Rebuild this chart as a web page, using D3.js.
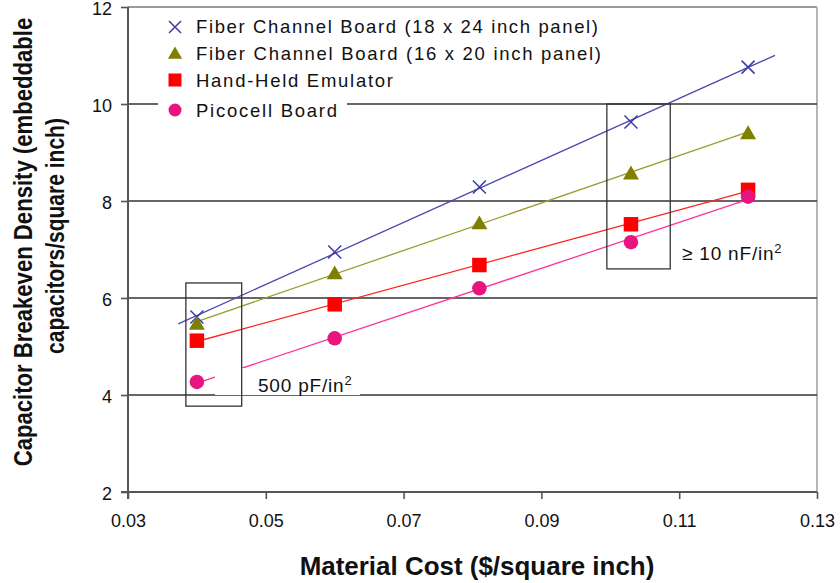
<!DOCTYPE html>
<html><head><meta charset="utf-8">
<script src="https://cdn.jsdelivr.net/npm/d3@7"></script>
<style>body{margin:0;background:#fff;} svg{display:block;font-family:"Liberation Sans",Arial,sans-serif;}</style>
</head><body>
<svg id="c" width="840" height="583"></svg>
<script>
// ---- data ----
const seriesNames = ["Fiber Channel Board (18 x 24 inch panel)", "Fiber Channel Board (16 x 20 inch panel)", "Hand-Held Emulator", "Picocell Board"];
const materialCost = [0.04, 0.06, 0.081, 0.103, 0.12];
const fiber18x24 = [5.61, 6.95, 8.29, 9.63, 10.76];
const fiber16x20 = [5.48, 6.52, 7.55, 8.58, 9.41];
const handHeld = [5.12, 5.87, 6.68, 7.52, 8.23];
const picocell = [4.27, 5.17, 6.20, 7.15, 8.09];
const xTicks = [0.03, 0.05, 0.07, 0.09, 0.11, 0.13];
const yTicks = [2, 4, 6, 8, 10, 12];
const trendRanges = [[0.0373, 0.1239], [0.04, 0.12], [0.04, 0.12], [0.04, 0.12]];
const boxLow = {x0: 0.0384, x1: 0.0465, y0: 3.77, y1: 6.31, label: "500 pF/in", sup: "2"};
const boxHigh = {x0: 0.0995, x1: 0.1087, y0: 6.6, y1: 10.0, label: "\u2265 10 nF/in", sup: "2"};

const allSeries = [fiber18x24, fiber16x20, handHeld, picocell];
const markerColors = ["#3c3ca8", "#7f7f00", "#ff0000", "#e8157f"];
const lineColors = ["#4a4ab0", "#9c9c30", "#ff2222", "#ff3399"];
const shapes = ["x", "triangle", "square", "circle"];

const svg = d3.select("#c");
const x = d3.scaleLinear().domain([0.03, 0.13]).range([128, 817]);
const y = d3.scaleLinear().domain([2, 12]).range([492, 7]);

// frame: top and right light
svg.append("line").attr("x1", x(0.03)).attr("x2", x(0.13)).attr("y1", y(12)).attr("y2", y(12)).attr("stroke", "#999").attr("stroke-width", 2);
svg.append("line").attr("x1", x(0.13)).attr("x2", x(0.13)).attr("y1", y(12)).attr("y2", y(2)).attr("stroke", "#b5b5b5").attr("stroke-width", 2);

// gridlines
svg.append("g").selectAll("line").data(yTicks.filter(d => d > 2 && d < 12)).join("line")
  .attr("x1", x(0.03)).attr("x2", x(0.13)).attr("y1", d => y(d)).attr("y2", d => y(d))
  .attr("stroke", "#333").attr("stroke-width", 1.3);

// axes
const yAxis = d3.axisLeft(y).tickValues(yTicks).tickFormat(d3.format("d")).tickSize(7).tickPadding(9);
const gy = svg.append("g").attr("transform", `translate(${x(0.03)},0)`).call(yAxis);
const xAxis = d3.axisBottom(x).tickValues(xTicks).tickFormat(d3.format(".2f")).tickSize(7).tickPadding(15);
const gx = svg.append("g").attr("transform", `translate(0,${y(2)})`).call(xAxis);
[gx, gy].forEach(g => {
  g.select(".domain").remove();
  g.selectAll(".tick line").attr("stroke", "#555").attr("stroke-width", 1.6);
  g.selectAll(".tick text").attr("fill", "#111").style("font-size", "18px").style("font-family", '"Liberation Sans",Arial,sans-serif');
});
gy.selectAll(".tick text").attr("dy", "0.42em");
svg.append("line").attr("x1", x(0.03)).attr("x2", x(0.03)).attr("y1", y(12)).attr("y2", y(2) + 7).attr("stroke", "#555").attr("stroke-width", 2);
svg.append("line").attr("x1", x(0.03) - 7).attr("x2", x(0.13)).attr("y1", y(2)).attr("y2", y(2)).attr("stroke", "#555").attr("stroke-width", 2);

// trend lines (least squares fit)
allSeries.forEach((vals, i) => {
  const mx = d3.mean(materialCost), my = d3.mean(vals);
  const sxy = d3.sum(materialCost.map((c, k) => (c - mx) * (vals[k] - my)));
  const sxx = d3.sum(materialCost.map(c => (c - mx) * (c - mx)));
  const b = sxy / sxx, a = my - b * mx;
  const [r0, r1] = trendRanges[i];
  svg.append("line").attr("x1", x(r0)).attr("y1", y(a + b * r0)).attr("x2", x(r1)).attr("y2", y(a + b * r1))
    .attr("stroke", lineColors[i]).attr("stroke-width", 1.3);
});

// white label background for low box
svg.append("rect").attr("x", 215).attr("y", 368).attr("width", 145).attr("height", 27).attr("fill", "#fff");

// annotation boxes
[boxLow, boxHigh].forEach(bx => {
  svg.append("rect").attr("x", x(bx.x0)).attr("y", y(bx.y1)).attr("width", x(bx.x1) - x(bx.x0)).attr("height", y(bx.y0) - y(bx.y1))
    .attr("fill", "none").attr("stroke", "#333").attr("stroke-width", 1.3);
});

// markers
function drawMarker(g, shape, cx, cy, s, color) {
  if (shape === "x") {
    g.append("path").attr("d", `M${cx - s / 2},${cy - s / 2}L${cx + s / 2},${cy + s / 2}M${cx - s / 2},${cy + s / 2}L${cx + s / 2},${cy - s / 2}`)
      .attr("stroke", color).attr("stroke-width", 1.5).attr("fill", "none");
  } else if (shape === "triangle") {
    g.append("path").attr("d", `M${cx},${cy - s * 0.5}L${cx + s * 0.55},${cy + s * 0.45}L${cx - s * 0.55},${cy + s * 0.45}Z`).attr("fill", color);
  } else if (shape === "square") {
    g.append("rect").attr("x", cx - s / 2).attr("y", cy - s / 2).attr("width", s).attr("height", s).attr("fill", color);
  } else {
    g.append("circle").attr("cx", cx).attr("cy", cy).attr("r", s / 2).attr("fill", color);
  }
}
const mg = svg.append("g");
allSeries.forEach((vals, i) => {
  vals.forEach((v, k) => drawMarker(mg, shapes[i], x(materialCost[k]), y(v), i === 0 ? 13 : 14.5, markerColors[i]));
});

// annotation labels
function supLabel(tx, ty, main, sup) {
  const t = svg.append("text").attr("x", tx).attr("y", ty).style("font-size", "19px").style("letter-spacing", "0.8px").attr("fill", "#111");
  t.append("tspan").text(main);
  t.append("tspan").attr("dy", -7).style("font-size", "13px").text(sup);
}
supLabel(258, 392, boxLow.label, boxLow.sup);
supLabel(682, 260, boxHigh.label, boxHigh.sup);

// legend
const legY = [27, 53, 80, 110];
const legBase = [33, 60, 87, 117];
const legLen = [402, 405, 197, 141];
seriesNames.forEach((name, i) => {
  svg.append("rect").attr("x", 158).attr("y", legY[i] - 13).attr("width", legLen[i] + 48).attr("height", 26).attr("fill", "#fff");
  drawMarker(svg, shapes[i], 175, legY[i], i === 0 ? 12 : 13, markerColors[i]);
  svg.append("text").attr("x", 196).attr("y", legBase[i]).attr("textLength", legLen[i]).attr("lengthAdjust", "spacing")
    .style("font-size", "18.5px").attr("fill", "#111").text(name);
});

// axis titles: drawn at full size, then squeezed along the text direction to the measured length
function squeezed(tx, ty, rot, len, size, str) {
  const g = svg.append("g");
  const t = g.append("text").attr("text-anchor", "middle").style("font-size", size + "px").style("font-weight", "bold").attr("fill", "#111").text(str);
  const w = t.node().getComputedTextLength();
  g.attr("transform", `translate(${tx},${ty}) rotate(${rot}) scale(${len / w},1)`);
}
squeezed(477, 575, 0, 355, 25, "Material Cost ($/square inch)");
squeezed(32, 242, -90, 449, 26, "Capacitor Breakeven Density (embeddable");
squeezed(64, 236, -90, 236, 26, "capacitors/square inch)");
</script>
</body></html>
